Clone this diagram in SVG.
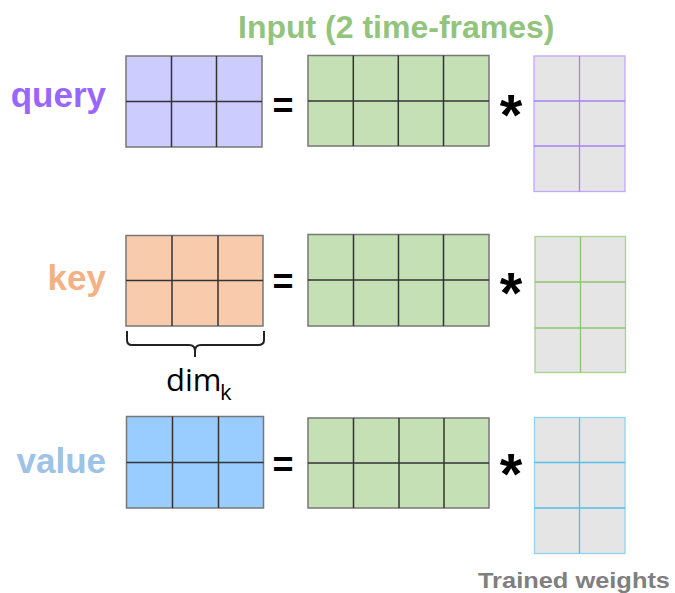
<svg xmlns="http://www.w3.org/2000/svg" width="675" height="593" viewBox="0 0 675 593">
<style>
.lbl{font-family:"Liberation Sans",Arial,sans-serif;font-weight:bold;font-size:35px;text-anchor:end}
.op{font-family:"Liberation Sans",Arial,sans-serif;font-weight:bold;fill:#000;text-anchor:middle}
.mat{stroke:#777;stroke-width:1.5}
.grid{stroke:#333;stroke-width:1.5;fill:none}
.w{fill:#e5e5e5;stroke-width:1.3}
.inp{fill:#c5e0b4}
</style>
<rect width="675" height="593" fill="#fff"/>
<text x="238" y="38" font-family="Liberation Sans, Arial, sans-serif" font-weight="bold" font-size="32" fill="#93c47d">Input (2 time-frames)</text>

<g id="query-label"><text class="lbl" x="106" y="107" fill="#9966ff">query</text></g>
<g id="key-label"><text class="lbl" x="106" y="290" fill="#f4b183">key</text></g>
<g id="value-label"><text class="lbl" x="106" y="473" fill="#9dc3e6">value</text></g>

<g id="query-matrix">
<rect class="mat" x="126" y="56" width="136" height="91" fill="#ccccff"/>
<path class="grid" d="M171.5,56V147M216.5,56V147M126,101.5H262"/>
</g>
<g id="input-1">
<rect class="mat inp" x="308" y="55.5" width="181" height="90.5"/>
<path class="grid" d="M353.3,55.5V146M398.3,55.5V146M443.5,55.5V146M308,101H489"/>
</g>
<g id="weights-query">
<rect class="w" x="534" y="56" width="91" height="135.5" stroke="#c3a6ff"/>
<path fill="none" stroke="#a880f5" stroke-width="1.3" d="M579.5,56V191.5M534,101H625M534,146H625"/>
</g>

<g id="key-matrix">
<rect class="mat" x="126" y="235.5" width="137" height="90.5" fill="#f8cbad"/>
<path class="grid" d="M172,235.5V326M218,235.5V326M126,280.5H263"/>
</g>
<g id="input-2">
<rect class="mat inp" x="308" y="234.5" width="181" height="91.5"/>
<path class="grid" d="M353.5,234.5V326M398.5,234.5V326M443.5,234.5V326M308,280H489"/>
</g>
<g id="weights-key">
<rect class="w" x="535" y="236.5" width="90.5" height="136" stroke="#a9d18e"/>
<path fill="none" stroke="#8cc56e" stroke-width="1.3" d="M580.5,236.5V372.5M535,282H625.5M535,328H625.5"/>
</g>

<g id="value-matrix">
<rect class="mat" x="126.5" y="416.5" width="137" height="91.5" fill="#99ccff"/>
<path class="grid" d="M172.5,416.5V508M218.5,416.5V508M126.5,462.5H263.5"/>
</g>
<g id="input-3">
<rect class="mat inp" x="308" y="418" width="181" height="90"/>
<path class="grid" d="M353.5,418V508M399,418V508M444,418V508M308,463H489"/>
</g>
<g id="weights-value">
<rect class="w" x="534.5" y="417.5" width="90.5" height="136" stroke="#8fd3f2"/>
<path fill="none" stroke="#55bde8" stroke-width="1.3" d="M579.5,417.5V553.5M534.5,462.5H625M534.5,508H625"/>
</g>

<g id="operators">
<text class="op" x="283" y="117.5" font-size="36">=</text>
<text class="op" x="283" y="294" font-size="36">=</text>
<text class="op" x="283" y="476.5" font-size="36">=</text>
<text class="op" x="511" y="135" font-size="58">*</text>
<text class="op" x="511" y="313" font-size="58">*</text>
<text class="op" x="511" y="494" font-size="58">*</text>
</g>

<g id="dim-brace">
<path d="M127,331V340Q127,345 132,345H189Q195,345 195,351V357M195,351Q195,345 201,345H258Q264,345 264,340V331" fill="none" stroke="#222" stroke-width="2"/>
<text x="166" y="391" font-family="Open Sans, sans-serif" font-size="31" fill="#000">dim<tspan x="220" y="400" font-size="22">k</tspan></text>
</g>

<text x="478" y="587.5" font-family="Liberation Sans, Arial, sans-serif" font-weight="bold" font-size="22" fill="#7f7f7f" textLength="192" lengthAdjust="spacingAndGlyphs">Trained weights</text>
</svg>
